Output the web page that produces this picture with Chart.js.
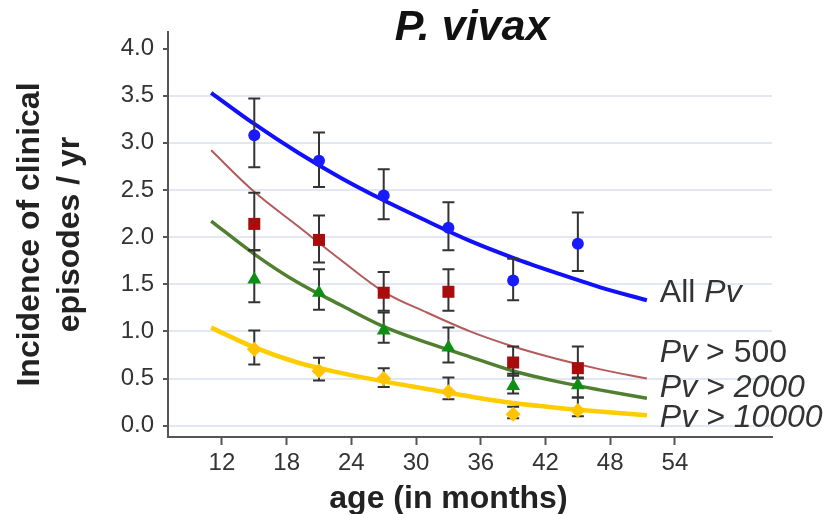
<!DOCTYPE html>
<html>
<head>
<meta charset="utf-8">
<title>P. vivax incidence by age</title>
<script src="https://cdn.jsdelivr.net/npm/chart.js@4.4.1/dist/chart.umd.min.js"></script>
<style>
  html, body { margin: 0; padding: 0; background: #fff; }
  #wrap { width: 830px; height: 514px; }
</style>
</head>
<body>
<div id="wrap"><canvas id="chart" width="830" height="514"></canvas></div>
<script>
  // ---- data ----
  const ages = [15, 21, 27, 33, 39, 45];

  const allPv   = [3.08, 2.81, 2.44, 2.10, 1.54, 1.93];
  const allPvLo = [2.74, 2.53, 2.19, 1.86, 1.33, 1.64];
  const allPvHi = [3.47, 3.11, 2.72, 2.37, 1.77, 2.26];

  const pv500   = [2.14, 1.97, 1.41, 1.42, 0.67, 0.61];
  const pv500Lo = [1.86, 1.73, 1.22, 1.22, 0.53, 0.50];
  const pv500Hi = [2.47, 2.23, 1.63, 1.66, 0.84, 0.84];

  const pv2000   = [1.55, 1.41, 1.01, 0.83, 0.42, 0.43];
  const pv2000Lo = [1.31, 1.23, 0.88, 0.67, 0.34, 0.30];
  const pv2000Hi = [1.86, 1.66, 1.20, 1.04, 0.55, 0.51];

  const pv10000   = [0.81, 0.58, 0.50, 0.36, 0.12, 0.16];
  const pv10000Lo = [0.65, 0.48, 0.41, 0.28, 0.08, 0.10];
  const pv10000Hi = [1.01, 0.72, 0.61, 0.51, 0.20, 0.30];

  // fitted curves
  const fitAges    = [11, 15, 19, 23, 27, 31, 35, 39, 43, 47, 51.4];
  const allPvFit   = [3.53, 3.20, 2.90, 2.63, 2.39, 2.17, 1.96, 1.78, 1.62, 1.47, 1.33];
  const pv500Fit   = [2.92, 2.48, 2.12, 1.76, 1.42, 1.20, 1.00, 0.84, 0.71, 0.60, 0.50];
  const pv2000Fit  = [2.17, 1.82, 1.52, 1.28, 1.05, 0.88, 0.73, 0.58, 0.47, 0.38, 0.29];
  const pv10000Fit = [1.04, 0.83, 0.67, 0.56, 0.47, 0.39, 0.31, 0.24, 0.19, 0.15, 0.11];

  const xTickValues = [12, 18, 24, 30, 36, 42, 48, 54];
  const yTickValues = [0, 0.5, 1, 1.5, 2, 2.5, 3, 3.5, 4];

  // series labels: [text, italic] pieces
  const seriesLabels = [
    [['All ', false], ['Pv', true]],
    [['Pv', true], [' > 500', false]],
    [['Pv', true], [' > 2000', true]],
    [['Pv', true], [' > 10000', true]]
  ];
  const labelAge = 52.6;
  const labelValues = [1.41, 0.77, 0.40, 0.085];

  const FONT = '"Liberation Sans", Arial, sans-serif';

  const series = [
    { y: allPv,   lo: allPvLo,   hi: allPvHi,   fit: allPvFit,   line: '#1010fa', lw: 4,   mark: '#1a1aff', style: 'circle',   r: 6 },
    { y: pv500,   lo: pv500Lo,   hi: pv500Hi,   fit: pv500Fit,   line: '#b35b5b', lw: 2,   mark: '#a80c0c', style: 'rect',     r: 8.5 },
    { y: pv2000,  lo: pv2000Lo,  hi: pv2000Hi,  fit: pv2000Fit,  line: '#4f7f2f', lw: 3.5, mark: '#0e8e14', style: 'triangle', r: 8 },
    { y: pv10000, lo: pv10000Lo, hi: pv10000Hi, fit: pv10000Fit, line: '#ffcc00', lw: 4.5, mark: '#ffc400', style: 'rectRot',  r: 7.5 }
  ];

  const datasets = [];
  series.forEach(s => {
    datasets.push({
      type: 'scatter',
      data: ages.map((a, i) => ({ x: a, y: s.y[i] })),
      pointStyle: s.style,
      pointRadius: s.r,
      backgroundColor: s.mark,
      borderWidth: 0,
      showLine: false,
      order: 1,
      isMarker: true,
      lo: s.lo,
      hi: s.hi
    });
  });
  series.forEach(s => {
    datasets.push({
      type: 'line',
      data: fitAges.map((a, i) => ({ x: a, y: s.fit[i] })),
      borderColor: s.line,
      borderWidth: s.lw,
      pointRadius: 0,
      fill: false,
      cubicInterpolationMode: 'monotone',
      order: 2
    });
  });

  // error bars go under the markers but over the curves
  let barsDone = false;
  const errorBars = {
    id: 'errorBars',
    beforeDatasetsDraw() { barsDone = false; },
    beforeDatasetDraw(chart, args) {
      const ds = chart.data.datasets[args.index];
      if (!ds.isMarker || barsDone) return;
      barsDone = true;
      const { ctx, scales: { x, y } } = chart;
      ctx.save();
      ctx.strokeStyle = '#333';
      ctx.lineWidth = 2;
      chart.data.datasets.forEach(d => {
        if (!d.isMarker) return;
        d.data.forEach((p, i) => {
          const px = x.getPixelForValue(p.x);
          const top = y.getPixelForValue(d.hi[i]);
          const bot = y.getPixelForValue(d.lo[i]);
          ctx.beginPath();
          ctx.moveTo(px, top); ctx.lineTo(px, bot);
          ctx.moveTo(px - 6, top); ctx.lineTo(px + 6, top);
          ctx.moveTo(px - 6, bot); ctx.lineTo(px + 6, bot);
          ctx.stroke();
        });
      });
      ctx.restore();
    }
  };

  const textBits = {
    id: 'textBits',
    afterDraw(chart) {
      const { ctx, chartArea, scales: { x, y } } = chart;
      ctx.save();
      ctx.textBaseline = 'middle';

      // title
      ctx.fillStyle = '#111';
      ctx.textAlign = 'center';
      ctx.font = 'italic bold 43px ' + FONT;
      ctx.fillText('P. vivax', (chartArea.left + chartArea.right) / 2 + 2, 28);

      // x axis title, centred on the tick range
      ctx.fillStyle = '#222';
      ctx.font = 'bold 32px ' + FONT;
      const mid = (xTickValues[0] + xTickValues[xTickValues.length - 1]) / 2;
      ctx.fillText('age (in months)', x.getPixelForValue(mid), 499);

      // series labels
      ctx.textAlign = 'left';
      ctx.fillStyle = '#333';
      seriesLabels.forEach((parts, k) => {
        let px = x.getPixelForValue(labelAge);
        const py = y.getPixelForValue(labelValues[k]);
        parts.forEach(([txt, it]) => {
          ctx.font = (it ? 'italic ' : '') + '32px ' + FONT;
          ctx.fillText(txt, px, py);
          px += ctx.measureText(txt).width;
        });
      });
      ctx.restore();
    }
  };

  new Chart(document.getElementById('chart'), {
    data: { datasets },
    options: {
      responsive: false,
      animation: false,
      devicePixelRatio: 1,
      layout: { padding: { left: 0, right: 58, top: 32, bottom: 0 } },
      plugins: { legend: { display: false }, tooltip: { enabled: false } },
      scales: {
        x: {
          type: 'linear',
          min: 7,
          max: 63,
          afterBuildTicks: s => { s.ticks = xTickValues.map(v => ({ value: v })); },
          afterFit: s => { s.height = 77; },
          ticks: { color: '#333', font: { family: FONT, size: 24 }, padding: 4, maxRotation: 0, autoSkip: false },
          grid: { drawOnChartArea: false, tickLength: 8, tickColor: '#555', tickWidth: 2 },
          border: { color: '#555', width: 2 }
        },
        y: {
          min: -0.12,
          max: 4.175,
          afterBuildTicks: s => { s.ticks = yTickValues.map(v => ({ value: v })); },
          afterFit: s => { s.width = 168; },
          ticks: { color: '#333', font: { family: FONT, size: 24 }, padding: 9, callback: v => v.toFixed(1) },
          grid: {
            color: c => (c.tick && c.tick.value === 4 ? 'rgba(0,0,0,0)' : '#e2e7f2'),
            lineWidth: 2,
            tickLength: 5,
            tickColor: '#555',
            tickWidth: 2
          },
          border: { color: '#555', width: 2 },
          title: {
            display: true,
            text: ['Incidence of clinical', 'episodes / yr'],
            color: '#222',
            font: { family: FONT, size: 32, weight: 'bold', lineHeight: 1.25 },
            padding: { top: 10, bottom: 0 }
          }
        }
      }
    },
    plugins: [errorBars, textBits]
  });
</script>
</body>
</html>
